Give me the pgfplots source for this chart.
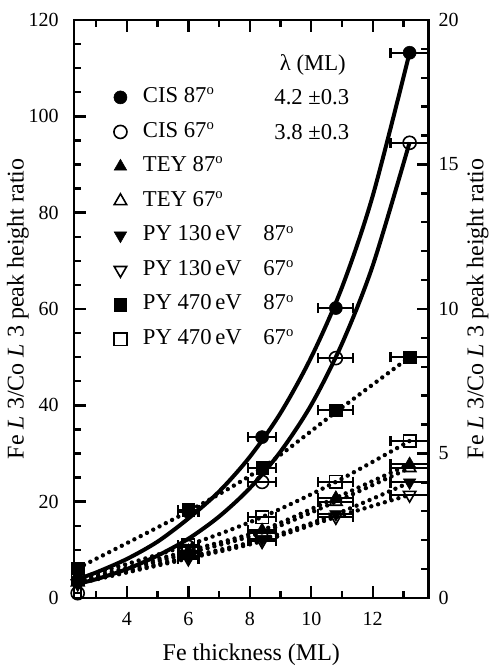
\documentclass[border=0pt]{standalone}
\usepackage{fontspec}
\setmainfont{Liberation Serif}
\usepackage{pgfplots}
\pgfplotsset{compat=1.18}
\newcommand{\dg}{\raisebox{0.75ex}{\fontsize{11}{11}\selectfont o}}
\begin{document}
\begin{tikzpicture}
\pgfplotsset{
  rat/.style={
    scale only axis, width=266pt, height=433.5pt,
    xmin=2.28, xmax=13.82,
    axis line style={line width=2pt},
    major tick length=9pt, minor tick length=5.5pt,
    every tick/.style={black, line width=1.8pt},
    tick align=inside,
    /pgf/number format/assume math mode=true,
    ticklabel style={font=\fontsize{15}{15}\selectfont},
  },
  ebar/.style={error bars/.cd, x dir=both, x explicit,
    error bar style={line width=1.6pt, solid},
    error mark options={rotate=90, mark size=3.9pt, line width=1.6pt}},
  dotline/.style={no marks, smooth, line width=3.3pt, line cap=round,
    dash pattern=on 0pt off 5.3pt},
  fitline/.style={no marks, smooth, line width=3pt},
}
\begin{axis}[rat, at={(0,0)}, anchor=south west,
  ymin=0, ymax=120,
  xtick={4,6,8,10,12}, minor xtick={3,5,...,13},
  ytick={0,20,...,120}, minor ytick={5,10,...,115},
  xtick pos=both, ytick pos=left, xticklabel pos=lower,
  yticklabel style={xshift=-8pt},
  xticklabel style={yshift=-7pt},
  xlabel={Fe thickness (ML)},
  ylabel={Fe \textit{L} 3/Co \textit{L} 3 peak height ratio},
  every axis x label/.style={at={(axis description cs:0.5,-0.0986)}, anchor=center,
    font=\fontsize{18}{18}\selectfont},
  every axis y label/.style={at={(axis description cs:-0.158,0.5)}, rotate=90, anchor=center,
    font=\fontsize{18}{18}\selectfont},
  legend style={at={(axis cs:3.57,106.2)}, anchor=north west, draw=none, fill=none,
    inner sep=0pt, row sep=9.9pt, column sep=12pt,
    font=\fontsize{17}{17}\selectfont,
    nodes={inner sep=0pt, text height=12pt, text depth=4pt}},
  legend cell align=left,
]
% dotted fits: PY 470 87, PY 470 67, TEY 87, TEY 67, PY 130 87, PY 130 67
\addplot[dotline, forget plot] coordinates {(2.4,6.2) (6,18.0) (8.4,27.0) (10.8,38.6) (13.2,50.0)};
\addplot[dotline, forget plot] coordinates {(2.4,4.0) (6,11.0) (8.4,16.8) (10.8,24.1) (13.2,32.6)};
\addplot[dotline, forget plot] coordinates {(2.4,3.5) (6,9.8) (8.4,14.1) (10.8,20.8) (13.2,27.8)};
\addplot[dotline, forget plot] coordinates {(2.4,3.3) (6,9.3) (8.4,13.6) (10.8,20.0) (13.2,27.0)};
\addplot[dotline, forget plot] coordinates {(2.4,3.2) (6,8.5) (8.4,12.2) (10.8,17.4) (13.2,24.0)};
\addplot[dotline, forget plot] coordinates {(2.4,3.0) (6,8.2) (8.4,11.8) (10.8,16.8) (13.2,21.4)};
% solid fits for CIS
\addplot[fitline, forget plot] coordinates {(2.3,3.7) (3,5.3) (4,8.1) (5,11.7) (6,16.5) (7,22.1) (8,29.3) (9,38.4) (10,50.0) (11,64.5) (12,83.5) (13.2,113.2)};
\addplot[fitline, forget plot] coordinates {(2.3,2.8) (3,3.9) (4,6.0) (5,8.8) (6,12.3) (7,16.9) (8,22.8) (9,30.4) (10,40.1) (11,52.8) (12,69.0) (13.2,94.6)};
% data points
\addplot[only marks, mark=*, mark size=4.9pt, forget plot, ebar] coordinates {
  (2.4,3.7) +- (0.12,0) (6,17.9) +- (0.33,0) (8.4,33.4) +- (0.45,0) (10.8,60.2) +- (0.57,0) (13.2,113.2) +- (0.62,0)};
\addplot[only marks, mark=o, mark size=4.9pt, mark options={line width=1.2pt}, forget plot, ebar] coordinates {
  (2.4,1.0) +- (0.12,0) (6,10.6) +- (0.33,0) (8.4,24.1) +- (0.45,0) (10.8,49.8) +- (0.57,0) (13.2,94.5) +- (0.62,0)};
\addplot[only marks, mark=triangle*, mark size=5.4pt, forget plot, ebar] coordinates {
  (2.4,3.5) +- (0.12,0) (6,9.8) +- (0.33,0) (8.4,14.1) +- (0.45,0) (10.8,20.8) +- (0.57,0) (13.2,27.8) +- (0.62,0)};
\addplot[only marks, mark=triangle, mark size=5.4pt, mark options={line width=1.2pt}, forget plot, ebar] coordinates {
  (2.4,3.3) +- (0.12,0) (6,9.3) +- (0.33,0) (8.4,13.6) +- (0.45,0) (10.8,20.0) +- (0.57,0) (13.2,27.0) +- (0.62,0)};
\addplot[only marks, mark=triangle*, mark size=5.4pt, mark options={rotate=180}, forget plot, ebar] coordinates {
  (2.4,3.2) +- (0.12,0) (6,8.5) +- (0.33,0) (8.4,12.2) +- (0.45,0) (10.8,17.4) +- (0.57,0) (13.2,24.0) +- (0.62,0)};
\addplot[only marks, mark=triangle, mark size=5.4pt, mark options={rotate=180, line width=1.2pt}, forget plot, ebar] coordinates {
  (2.4,3.0) +- (0.12,0) (6,8.2) +- (0.33,0) (8.4,11.8) +- (0.45,0) (10.8,16.8) +- (0.57,0) (13.2,21.4) +- (0.62,0)};
\addplot[only marks, mark=square*, mark size=4.7pt, forget plot, ebar] coordinates {
  (2.4,6.2) +- (0.12,0) (6,18.3) +- (0.33,0) (8.4,27.0) +- (0.45,0) (10.8,39.0) +- (0.57,0) (13.2,50.0) +- (0.62,0)};
\addplot[only marks, mark=square, mark size=4.7pt, mark options={line width=1.2pt}, forget plot, ebar] coordinates {
  (2.4,4.0) +- (0.12,0) (6,11.0) +- (0.33,0) (8.4,16.8) +- (0.45,0) (10.8,24.1) +- (0.57,0) (13.2,32.6) +- (0.62,0)};
% legend
\addlegendimage{only marks, mark=*, mark size=4.9pt}
\addlegendentry{CIS 87\dg}
\addlegendimage{only marks, mark=o, mark size=4.9pt, mark options={line width=1.2pt}}
\addlegendentry{CIS 67\dg}
\addlegendimage{only marks, mark=triangle*, mark size=5.4pt}
\addlegendentry{TEY 87\dg}
\addlegendimage{only marks, mark=triangle, mark size=5.4pt, mark options={line width=1.2pt}}
\addlegendentry{TEY 67\dg}
\addlegendimage{only marks, mark=triangle*, mark size=5.4pt, mark options={rotate=180}}
\addlegendentry{PY 130\,eV\hspace{0.95em}87\dg}
\addlegendimage{only marks, mark=triangle, mark size=5.4pt, mark options={rotate=180, line width=1.2pt}}
\addlegendentry{PY 130\,eV\hspace{0.95em}67\dg}
\addlegendimage{only marks, mark=square*, mark size=4.7pt}
\addlegendentry{PY 470\,eV\hspace{0.95em}87\dg}
\addlegendimage{only marks, mark=square, mark size=4.7pt, mark options={line width=1.2pt}}
\addlegendentry{PY 470\,eV\hspace{0.95em}67\dg}
\node[font=\fontsize{17}{17}\selectfont] at (axis cs:10.05,110.6) {λ (ML)};
\node[font=\fontsize{17}{17}\selectfont] at (axis cs:10.02,104.0) {4.2 ±0.3};
\node[font=\fontsize{17}{17}\selectfont] at (axis cs:10.02,96.8) {3.8 ±0.3};
\end{axis}
\begin{axis}[rat, at={(0,0)}, anchor=south west,
  ymin=0, ymax=20,
  axis x line=none, axis y line*=right,
  ytick={0,5,...,20}, minor ytick={1,...,19},
  yticklabel style={xshift=4pt},
  ylabel={Fe \textit{L} 3/Co \textit{L} 3 peak height ratio},
  every axis y label/.style={at={(axis description cs:1.138,0.5)}, rotate=90, anchor=center,
    font=\fontsize{18}{18}\selectfont},
]
\end{axis}
\pgfresetboundingbox
\path[use as bounding box] (-55.5pt,-51.75pt) rectangle (313.5pt,448.5pt);
\end{tikzpicture}
\end{document}
